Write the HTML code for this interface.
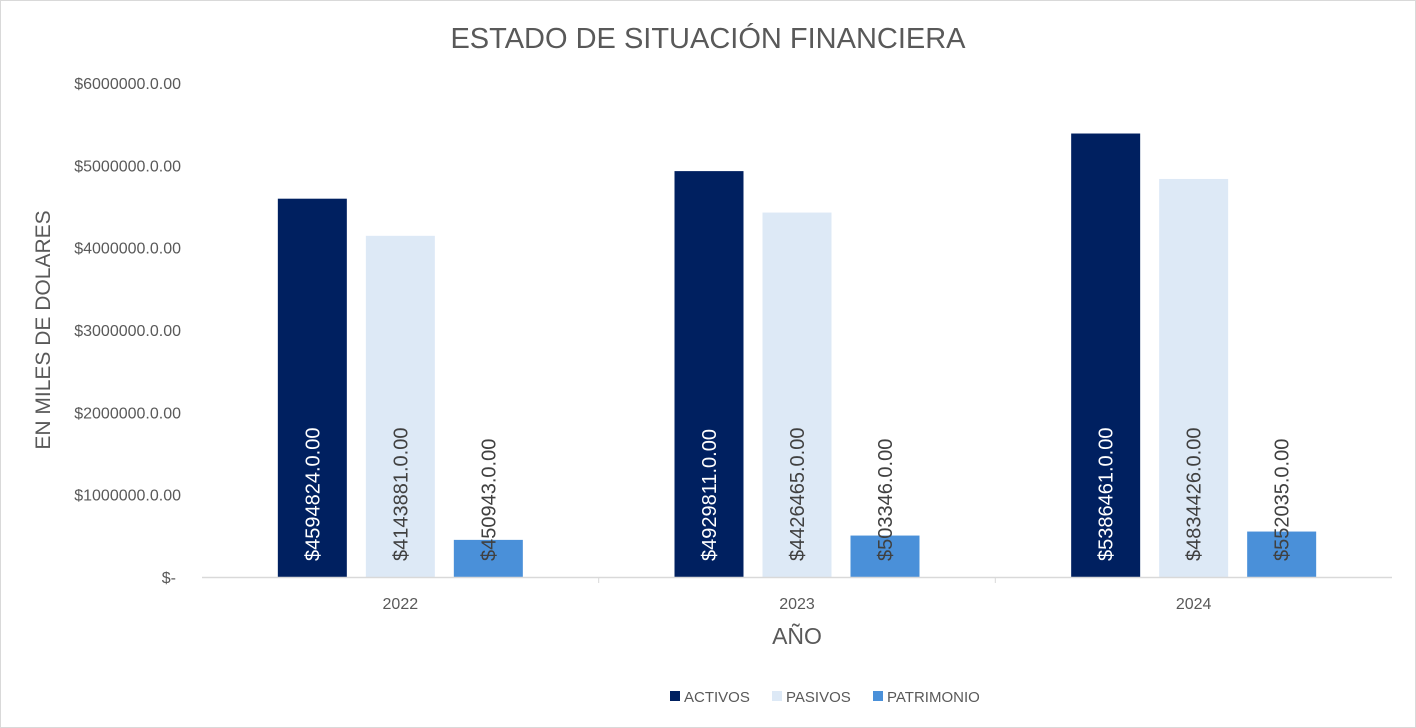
<!DOCTYPE html>
<html><head><meta charset="utf-8"><style>
html,body{margin:0;padding:0;background:#fff;}
svg{display:block;font-family:"Liberation Sans",Arial,sans-serif;}
</style></head><body>
<svg id="chart" width="1416" height="728" viewBox="0 0 1416 728">
<rect x="0.5" y="0.5" width="1415" height="727" fill="#fff" stroke="#d9d9d9"/>
<text x="708" y="48" text-anchor="middle" font-size="29" fill="#595959">ESTADO DE SITUACIÓN FINANCIERA</text>
<text transform="translate(50,330) rotate(-90)" text-anchor="middle" font-size="21" fill="#595959">EN MILES DE DOLARES</text>
<text x="797" y="644" text-anchor="middle" font-size="23" fill="#595959">AÑO</text>
<g id="yticks"></g>
<g id="bars"></g>
<g id="labels"></g>
<line x1="202" y1="577.5" x2="1392" y2="577.5" stroke="#d9d9d9" stroke-width="1.5"/>
<g id="xticks"></g>
<g>
<rect x="670" y="691" width="10" height="10" fill="#002060"/>
<text x="684" y="702" font-size="15" fill="#595959">ACTIVOS</text>
<rect x="772" y="691" width="10" height="10" fill="#dde9f6"/>
<text x="786" y="702" font-size="15" fill="#595959">PASIVOS</text>
<rect x="873" y="691" width="10" height="10" fill="#4a90d9"/>
<text x="887" y="702" font-size="15" fill="#595959">PATRIMONIO</text>
</g>
</svg>
<script>
const categories = ["2022","2023","2024"];
const activos = [4594824, 4929811, 5386461];
const pasivos = [4143881, 4426465, 4834426];
const patrimonio = [450943, 503346, 552035];
const yTickValues = [0,1000000,2000000,3000000,4000000,5000000,6000000];
const yTickLabels = ["$-","$1000000.0.00","$2000000.0.00","$3000000.0.00","$4000000.0.00","$5000000.0.00","$6000000.0.00"];

const NS="http://www.w3.org/2000/svg";
const x0=202,x1=1392,yBase=577,yTop=83,yMax=6000000;
const yScale=v=>yBase-(v/yMax)*(yBase-yTop);
const bandW=(x1-x0)/categories.length;
const xCenter=i=>x0+bandW*(i+0.5);
const barW=69,step=88;
const series=[
 {name:"activos",vals:activos,color:"#002060",text:"#fff",off:-1},
 {name:"pasivos",vals:pasivos,color:"#dde9f6",text:"#404040",off:0},
 {name:"patrimonio",vals:patrimonio,color:"#4a90d9",text:"#404040",off:1}
];
function mk(tag,attrs,parent){const e=document.createElementNS(NS,tag);for(const k in attrs)e.setAttribute(k,attrs[k]);parent.appendChild(e);return e;}
const yt=document.getElementById("yticks");
yTickValues.forEach((v,i)=>{
 const t=mk("text",{x:i===0?176:181,y:yScale(v)+6,"text-anchor":"end","font-size":"16",fill:"#595959"},yt);
 
 
 t.textContent=yTickLabels[i];
});
const xt=document.getElementById("xticks");
categories.forEach((c,i)=>{
 const t=mk("text",{x:xCenter(i),y:609,"text-anchor":"middle","font-size":"16",fill:"#595959"},xt);
 
 
 t.textContent=c;
 if(i>0){const l=mk("line",{x1:x0+bandW*i,y1:577,x2:x0+bandW*i,y2:583,stroke:"#d9d9d9"},xt);
 
 }
});
const bg=document.getElementById("bars"),lg=document.getElementById("labels");
series.forEach(s=>{
 s.vals.forEach((v,i)=>{
  const cx=xCenter(i)+s.off*step;
  const y=yScale(v);
  const r=mk("rect",{x:cx-barW/2,y:y,width:barW,height:yBase-y,fill:s.color},bg);
  
  
  const t=mk("text",{transform:"translate("+(cx+7)+",561) rotate(-90)","font-size":"20",fill:s.text},lg);
  
  
  t.textContent="$"+v+".0.00";
 });
});
</script>
</body></html>
